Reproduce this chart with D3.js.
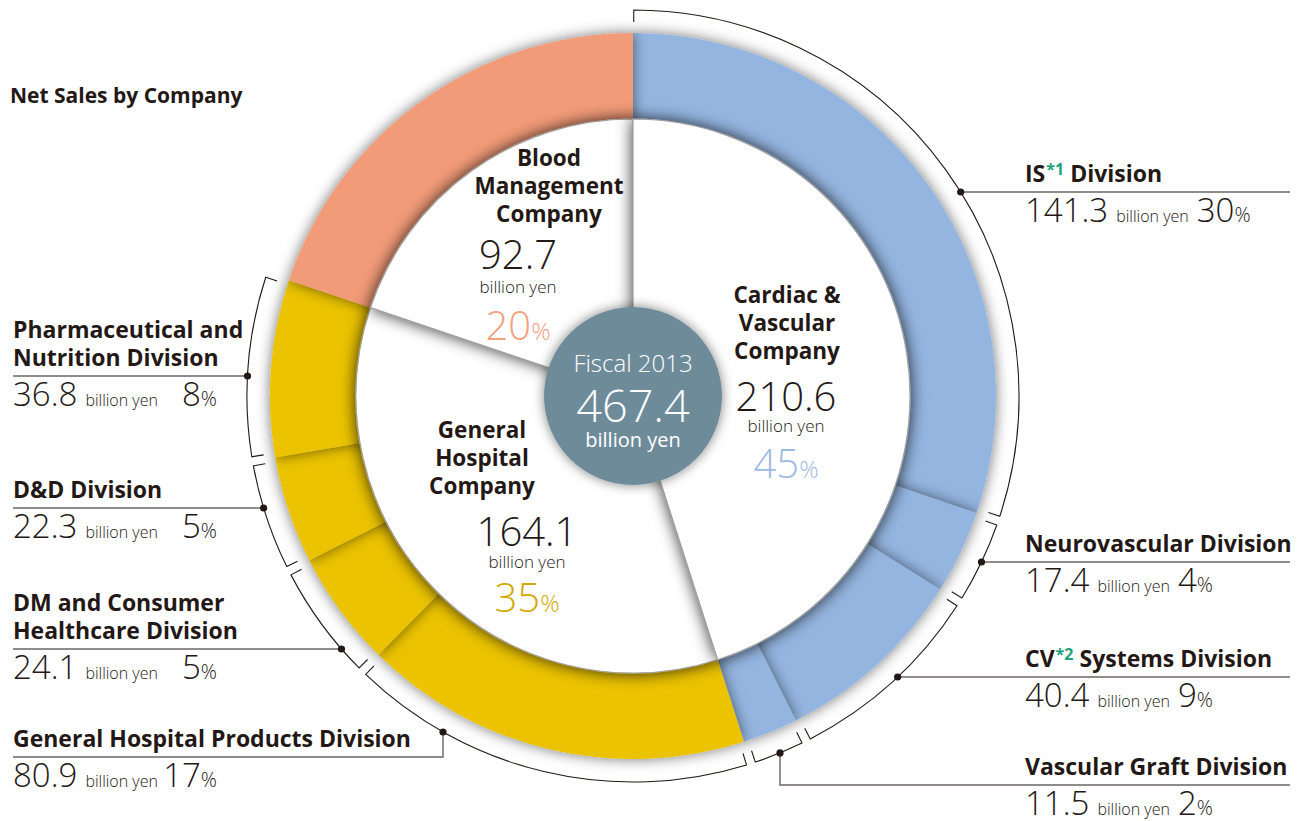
<!DOCTYPE html>
<html>
<head>
<meta charset="utf-8">
<script src="https://cdn.jsdelivr.net/npm/d3@7"></script>
<style>
  body { margin: 0; background: #fff; }
  #chart { width: 1305px; height: 821px; }
  text { font-family: "Open Sans", "Noto Sans", sans-serif; fill: #231815; }
</style>
</head>
<body>
<div id="chart"></div>
<script>
// ---- data (billion yen) ----
const total = 467.4;
const companies = ["Cardiac & Vascular Company", "General Hospital Company", "Blood Management Company"];
const companyValues = [210.6, 164.1, 92.7];
const companyPct = [45, 35, 20];
const companyColors = ["#94B5E0", "#EBC300", "#F29B78"];
const pctColors = ["#9DBBE3", "#D4A900", "#F3A07F"];

const divisions = ["IS*1 Division", "Neurovascular Division", "CV*2 Systems Division", "Vascular Graft Division",
  "General Hospital Products Division", "DM and Consumer Healthcare Division", "D&D Division",
  "Pharmaceutical and Nutrition Division"];
const divisionValues = [141.3, 17.4, 40.4, 11.5, 80.9, 24.1, 22.3, 36.8];
const divisionPct = [30, 4, 9, 2, 17, 5, 5, 8];
const divisionCompany = [0, 0, 0, 0, 1, 1, 1, 1];

// ---- layout ----
const width = 1305, height = 821;
const cx = 633, cy = 396;
const rOut = 363, rIn = 277, rBracket = 386, tick = 12, rCenter = 89;

// label anchors: side, y of leader line, x of elbow (if any), title lines
const labelLayout = [
  { side: "right", lineY: 192, lines: ["IS*1 Division"] },
  { side: "right", lineY: 562, lines: ["Neurovascular Division"] },
  { side: "right", lineY: 677, lines: ["CV*2 Systems Division"] },
  { side: "right", lineY: 785, elbowX: 780, lines: ["Vascular Graft Division"] },
  { side: "left", lineY: 757, elbowX: 443, lines: ["General Hospital Products Division"] },
  { side: "left", lineY: 649, lines: ["DM and Consumer", "Healthcare Division"] },
  { side: "left", lineY: 508, lines: ["D&D Division"] },
  { side: "left", lineY: 376, lines: ["Pharmaceutical and", "Nutrition Division"] }
];

const companyLayout = [
  { lines: ["Cardiac &", "Vascular", "Company"], nameX: 787, nameY: 303, numX: 786, numY: 411, unitY: 432, pctY: 478 },
  { lines: ["General", "Hospital", "Company"], nameX: 482, nameY: 438, numX: 527, numY: 546, unitY: 568, pctY: 612 },
  { lines: ["Blood", "Management", "Company"], nameX: 549, nameY: 166, numX: 518, numY: 269, unitY: 293, pctY: 340 }
];

const svg = d3.select("#chart").append("svg")
  .attr("width", width)
  .attr("height", height);

const defs = svg.append("defs");
function shadow(id, sd, op) {
  defs.append("filter").attr("id", id)
    .attr("x", "-20%").attr("y", "-20%").attr("width", "140%").attr("height", "140%")
    .append("feDropShadow")
    .attr("dx", 0).attr("dy", 0)
    .attr("stdDeviation", sd)
    .attr("flood-color", "#000")
    .attr("flood-opacity", op);
}
shadow("ringShadow", 7, 0.55);
shadow("pieShadow", 8, 0.8);
shadow("centerShadow", 6, 0.5);

// title
svg.append("text")
  .attr("x", 10).attr("y", 103)
  .attr("font-size", 21).attr("font-weight", 700)
  .text("Net Sales by Company");

const g = svg.append("g").attr("transform", `translate(${cx},${cy})`);

// ring segments: divisions + blood management
const ringValues = divisionValues.concat([companyValues[2]]);
const ringCompany = divisionCompany.concat([2]);
const pie = d3.pie().sort(null).value(d => d);
const ringArcs = pie(ringValues);

const ringArc = d3.arc().innerRadius(rIn - 10).outerRadius(rOut);
g.append("g")
  .selectAll("path")
  .data(ringArcs)
  .join("path")
  .attr("d", ringArc)
  .attr("fill", (d, i) => companyColors[ringCompany[i]])
  .attr("filter", "url(#ringShadow)");

// inner white company slices
const companyArcs = pie(companyValues);
const pieArc = d3.arc().innerRadius(0).outerRadius(rIn);
const drawOrder = [1, 2, 0];
g.append("g")
  .selectAll("path")
  .data(drawOrder.map(i => companyArcs[i]))
  .join("path")
  .attr("d", pieArc)
  .attr("fill", "#fff")
  .attr("stroke", "#a0a0a0")
  .attr("stroke-width", 1.2)
  .attr("filter", "url(#pieShadow)");

// center circle
g.append("circle")
  .attr("r", rCenter)
  .attr("fill", "#6E8B9A")
  .attr("filter", "url(#centerShadow)");

g.append("text").attr("y", -24).attr("text-anchor", "middle")
  .attr("font-size", 24).attr("font-weight", 300).style("fill", "#fff")
  .text("Fiscal 2013");
g.append("text").attr("y", 26).attr("text-anchor", "middle")
  .attr("font-size", 45).attr("font-weight", 300).style("fill", "#fff")
  .text(d3.format(".1f")(total));
g.append("text").attr("y", 51).attr("text-anchor", "middle")
  .attr("font-size", 20).attr("font-weight", 400).style("fill", "#fff")
  .text("billion yen");

// company labels
companyLayout.forEach((c, i) => {
  const t = svg.append("text").attr("text-anchor", "middle")
    .attr("font-size", 22.5).attr("font-weight", 700);
  c.lines.forEach((l, j) => {
    t.append("tspan").attr("x", c.nameX).attr("y", c.nameY + j * 28).text(l);
  });
  svg.append("text").attr("x", c.numX).attr("y", c.numY).attr("text-anchor", "middle")
    .attr("font-size", 40).attr("font-weight", 300)
    .text(d3.format(".1f")(companyValues[i]));
  svg.append("text").attr("x", c.numX).attr("y", c.unitY).attr("text-anchor", "middle")
    .attr("font-size", 17).attr("font-weight", 300)
    .text("billion yen");
  const p = svg.append("text").attr("x", c.numX).attr("y", c.pctY).attr("text-anchor", "middle")
    .attr("font-weight", 300).style("fill", pctColors[i]);
  p.append("tspan").attr("font-size", 40).style("fill", pctColors[i]).text(companyPct[i]);
  p.append("tspan").attr("font-size", 24).style("fill", pctColors[i]).text("%");
});

// brackets around each division
const gap = 0.012;
const pt = (a, r) => [r * Math.sin(a), -r * Math.cos(a)];
const brackets = g.append("g")
  .attr("fill", "none")
  .attr("stroke", "#231815")
  .attr("stroke-width", 1.1);
divisions.forEach((d, i) => {
  const a0 = ringArcs[i].startAngle + (i === 0 ? 0.002 : gap);
  const a1 = ringArcs[i].endAngle - gap;
  const p = d3.path();
  const s0 = pt(a0, rBracket - tick);
  p.moveTo(s0[0], s0[1]);
  const s1 = pt(a0, rBracket);
  p.lineTo(s1[0], s1[1]);
  p.arc(0, 0, rBracket, a0 - Math.PI / 2, a1 - Math.PI / 2, false);
  const s2 = pt(a1, rBracket - tick);
  p.lineTo(s2[0], s2[1]);
  brackets.append("path").attr("d", p.toString());
});

// leader lines and division labels
const leaders = svg.append("g");
const fmt = d3.format(".1f");
labelLayout.forEach((L, i) => {
  let dotX, dotY, pts;
  const sign = L.side === "right" ? 1 : -1;
  const endX = L.side === "right" ? 1290 : 13;
  if (L.elbowX !== undefined) {
    dotX = L.elbowX;
    dotY = cy + Math.sqrt(rBracket * rBracket - (dotX - cx) * (dotX - cx));
    pts = [[dotX, dotY], [dotX, L.lineY], [endX, L.lineY]];
  } else {
    dotY = L.lineY;
    dotX = cx + sign * Math.sqrt(rBracket * rBracket - (dotY - cy) * (dotY - cy));
    pts = [[dotX, dotY], [endX, L.lineY]];
  }
  leaders.append("path")
    .attr("d", d3.line()(pts))
    .attr("fill", "none")
    .attr("stroke", "#6b6666")
    .attr("stroke-width", 1.4);
  leaders.append("circle")
    .attr("cx", dotX).attr("cy", dotY).attr("r", 3.6)
    .attr("fill", "#231815");

  const x0 = L.side === "right" ? 1025 : 13;
  // title
  const nLines = L.lines.length;
  L.lines.forEach((line, j) => {
    const t = svg.append("text")
      .attr("x", x0)
      .attr("y", L.lineY - 10 - (nLines - 1 - j) * 28)
      .attr("font-size", 23).attr("font-weight", 700);
    const parts = line.split(/(\*\d)/);
    let raised = false;
    parts.forEach(part => {
      if (/^\*\d$/.test(part)) {
        t.append("tspan").attr("dy", -7).attr("dx", 1).attr("font-size", 16)
          .style("fill", "#1AA37A").text(part);
        raised = true;
      } else if (part.length) {
        const s = t.append("tspan").text(part);
        if (raised) { s.attr("dy", 7); raised = false; }
      }
    });
  });
  // value row
  const vy = L.lineY + 30;
  const v = svg.append("text").attr("x", x0).attr("y", vy).attr("font-weight", 300);
  v.append("tspan").attr("font-size", 33).text(fmt(divisionValues[i]));
  v.append("tspan").attr("font-size", 16).attr("dx", 8).text("billion yen");
  if (L.side === "right") {
    v.append("tspan").attr("font-size", 33).attr("dx", 8).text(divisionPct[i]);
    v.append("tspan").attr("font-size", 20).text("%");
  } else {
    const p = svg.append("text").attr("x", 217).attr("y", vy)
      .attr("text-anchor", "end").attr("font-weight", 300);
    p.append("tspan").attr("font-size", 33).text(divisionPct[i]);
    p.append("tspan").attr("font-size", 20).text("%");
  }
});
</script>
</body>
</html>
